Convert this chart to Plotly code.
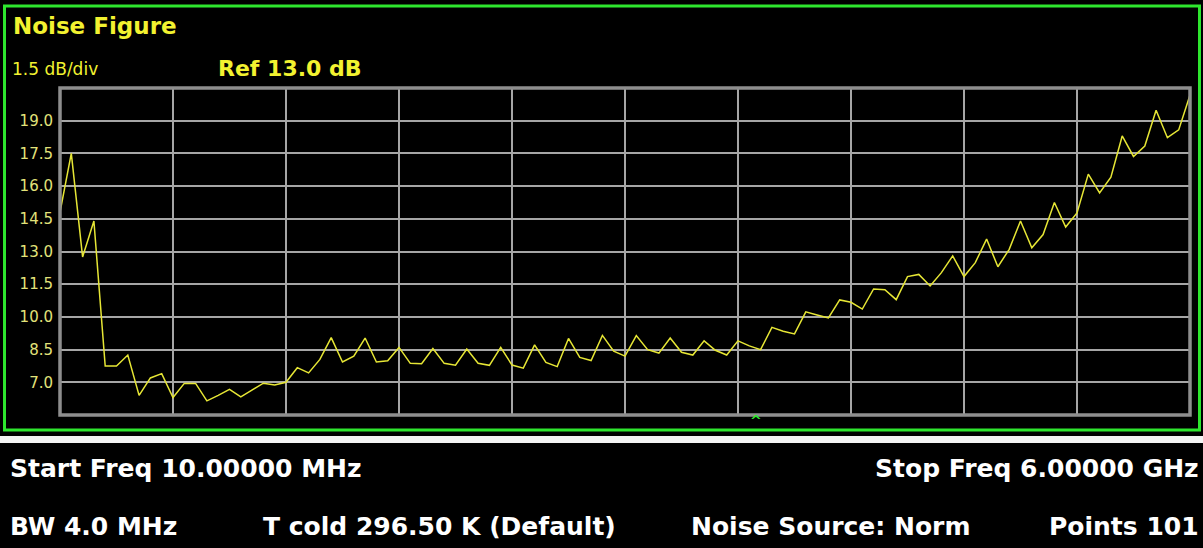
import numpy as np
import plotly.graph_objects as go

# ---- data ----
start_freq_mhz = 10.0
stop_freq_mhz = 6000.0
n_points = 101
noise_figure_db = [
    14.8, 17.5, 12.75, 14.4, 7.75, 7.75, 8.25, 6.4, 7.2, 7.4,
    6.3, 6.95, 6.95, 6.15, 6.4, 6.68, 6.33, 6.66, 6.96, 6.88,
    7.0, 7.67, 7.43, 8.05, 9.05, 7.93, 8.2, 9.03, 7.93, 7.99,
    8.6, 7.87, 7.85, 8.55, 7.87, 7.78, 8.53, 7.87, 7.78, 8.6,
    7.79, 7.65, 8.72, 7.91, 7.72, 9.01, 8.14, 8.0, 9.15, 8.43,
    8.2, 9.14, 8.5, 8.34, 9.03, 8.38, 8.25, 8.9, 8.47, 8.25,
    8.9, 8.67, 8.5, 9.52, 9.34, 9.22, 10.23, 10.09, 9.95, 10.78,
    10.67, 10.36, 11.28, 11.25, 10.79, 11.85, 11.95, 11.42, 12.03, 12.8,
    11.85, 12.49, 13.57, 12.3, 13.1, 14.4, 13.17, 13.78, 15.25, 14.12,
    14.77, 16.55, 15.69, 16.41, 18.3, 17.36, 17.84, 19.48, 18.22, 18.58,
    20.18,
]
ref_db = 13.0
db_per_div = 1.5
ytick_labels = ["7.0", "8.5", "10.0", "11.5", "13.0", "14.5", "16.0", "17.5", "19.0"]
marker_freq_mhz = 3700.0

freqs = np.linspace(start_freq_mhz, stop_freq_mhz, n_points)
y_lo = ref_db - 5 * db_per_div
y_hi = ref_db + 5 * db_per_div
x_div = (stop_freq_mhz - start_freq_mhz) / 10
xgrid = [start_freq_mhz + k * x_div for k in range(1, 10)]
ytick_vals = [float(t) for t in ytick_labels]

W, H = 1203, 548
L, R, T, B = 60, 1190, 88, 415


def px(xp):
    return (xp - L) / (R - L)


def py(yp):
    return (B - yp) / (B - T)


YEL = "#f2f230"
TRACE = "#e6e635"
GREEN = "#2ee62e"
GRID = "#a6a6a6"
FONT = "DejaVu Sans"

fig = go.Figure()
fig.add_trace(go.Scatter(x=freqs, y=noise_figure_db, mode="lines",
                         line=dict(color=TRACE, width=1.5), hoverinfo="skip",
                         showlegend=False))

fig.update_layout(
    width=W, height=H,
    paper_bgcolor="black", plot_bgcolor="black",
    margin=dict(l=L, r=W - R, t=T, b=H - B, pad=0),
    showlegend=False,
    xaxis=dict(range=[start_freq_mhz, stop_freq_mhz], tickvals=xgrid,
               showticklabels=False, showgrid=True, gridcolor=GRID, gridwidth=1.6,
               zeroline=False, showline=False, ticks=""),
    yaxis=dict(range=[y_lo, y_hi], tickvals=ytick_vals, ticktext=ytick_labels,
               showgrid=True, gridcolor=GRID, gridwidth=1.6, zeroline=False,
               showline=False, ticks="", ticklabelstandoff=6,
               tickfont=dict(family=FONT, size=15, color="#e2e27a")),
)

shapes = [
    # plot frame
    dict(type="rect", xref="paper", yref="paper", x0=0, x1=1, y0=0, y1=1,
         line=dict(color="#8e8e8e", width=3.5), layer="above"),
    # green panel border
    dict(type="rect", xref="paper", yref="paper", x0=px(4.5), x1=px(1199.5),
         y0=py(430), y1=py(6), line=dict(color=GREEN, width=3)),
    # white separator
    dict(type="rect", xref="paper", yref="paper", x0=px(0), x1=px(1203),
         y0=py(443), y1=py(436), line=dict(width=0), fillcolor="#f4f4f4"),
]
fig.update_layout(shapes=shapes)


def ann(text, x, y, size, color, bold=False, xanchor="left"):
    fig.add_annotation(
        text=f"<b>{text}</b>" if bold else text,
        xref="paper", yref="paper", x=px(x), y=py(y),
        xanchor=xanchor, yanchor="middle", showarrow=False,
        font=dict(family=FONT, size=size, color=color))


ann("Noise Figure", 11, 26, 23, YEL, bold=True)
ann("1.5 dB/div", 10, 69, 17, YEL)
ann("Ref 13.0 dB", 216, 68, 22, YEL, bold=True)

ann("Start Freq 10.00000 MHz", 8, 468, 25, "white", bold=True)
ann("Stop Freq 6.00000 GHz", 1201, 468, 25, "white", bold=True, xanchor="right")
ann("BW 4.0 MHz", 8, 526, 25, "white", bold=True)
ann("T cold 296.50 K (Default)", 261, 526, 25, "white", bold=True)
ann("Noise Source: Norm", 689, 526, 25, "white", bold=True)
ann("Points 101", 1201, 526, 25, "white", bold=True, xanchor="right")

# marker indicator below the plot
fig.add_annotation(text="<b>^</b>", xref="x", yref="paper", x=marker_freq_mhz, y=py(421),
                   xanchor="center", yanchor="middle", showarrow=False,
                   font=dict(family=FONT, size=14, color=GREEN))

fig.write_html(
    "out.html",
    config={"displayModeBar": False},
    post_script="document.body.style.margin='0';document.body.style.overflow='hidden';",
)
